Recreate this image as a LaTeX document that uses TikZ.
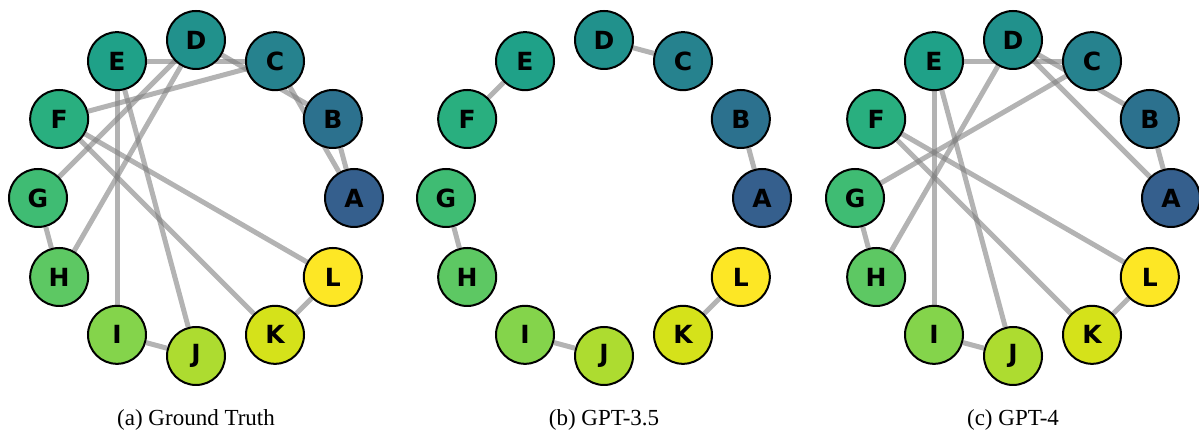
\documentclass[tikz,border=0pt]{standalone}
\usepackage{fontspec}
\setmainfont{Liberation Serif}
\newfontfamily\vertexfont{DejaVu Sans}
\usepackage{tikz}
\usetikzlibrary{backgrounds,calc,positioning}
\definecolor{vA}{HTML}{355F8D}
\definecolor{vB}{HTML}{2C718E}
\definecolor{vC}{HTML}{26828E}
\definecolor{vD}{HTML}{21918C}
\definecolor{vE}{HTML}{1FA188}
\definecolor{vF}{HTML}{29AF7F}
\definecolor{vG}{HTML}{3FBC73}
\definecolor{vH}{HTML}{5DC863}
\definecolor{vI}{HTML}{84D44B}
\definecolor{vJ}{HTML}{ADDC30}
\definecolor{vK}{HTML}{D5E21A}
\definecolor{vL}{HTML}{FDE725}
\tikzset{
  vertex/.style={circle,draw=black,line width=2pt,minimum size=58pt,inner sep=0pt,
    font=\vertexfont\bfseries\fontsize{25}{25}\selectfont},
  link/.style={line width=5pt,draw=black!50,draw opacity=0.6},
  subcap/.style={font=\fontsize{23}{26}\selectfont}
}

\begin{document}
\begin{tikzpicture}[x=1pt,y=1pt]
\useasboundingbox (0,0) rectangle (1199,435);
\foreach \p/\cx in {a/196,b/604,c/1013}
  \foreach \v [count=\k from 0] in {A,B,C,D,E,F,G,H,I,J,K,L}
    \node[vertex,fill=v\v] (\p\v) at ($(\cx,237)+(30*\k:158)$) {\v};
\begin{scope}[on background layer]
\foreach \s/\t in {C/A,B/A,D/B,E/C,F/C,D/G,D/H,E/I,E/J,F/K,F/L,G/H,I/J,K/L}
  \draw[link] (a\s) -- (a\t);
\foreach \s/\t in {D/C,B/A,E/F,G/H,K/L,I/J}
  \draw[link] (b\s) -- (b\t);
\foreach \s/\t in {E/C,D/B,D/A,B/A,C/G,D/H,E/I,E/J,F/L,F/K,G/H,I/J,K/L}
  \draw[link] (c\s) -- (c\t);
\end{scope}
\node[subcap] (capa) at (196,15) {(a)\ Ground Truth};
\node[subcap] (capb) at (604,15) {(b)\ GPT-3.5};
\node[subcap] (capc) at (1013,15) {(c)\ GPT-4};
\end{tikzpicture}
\end{document}
